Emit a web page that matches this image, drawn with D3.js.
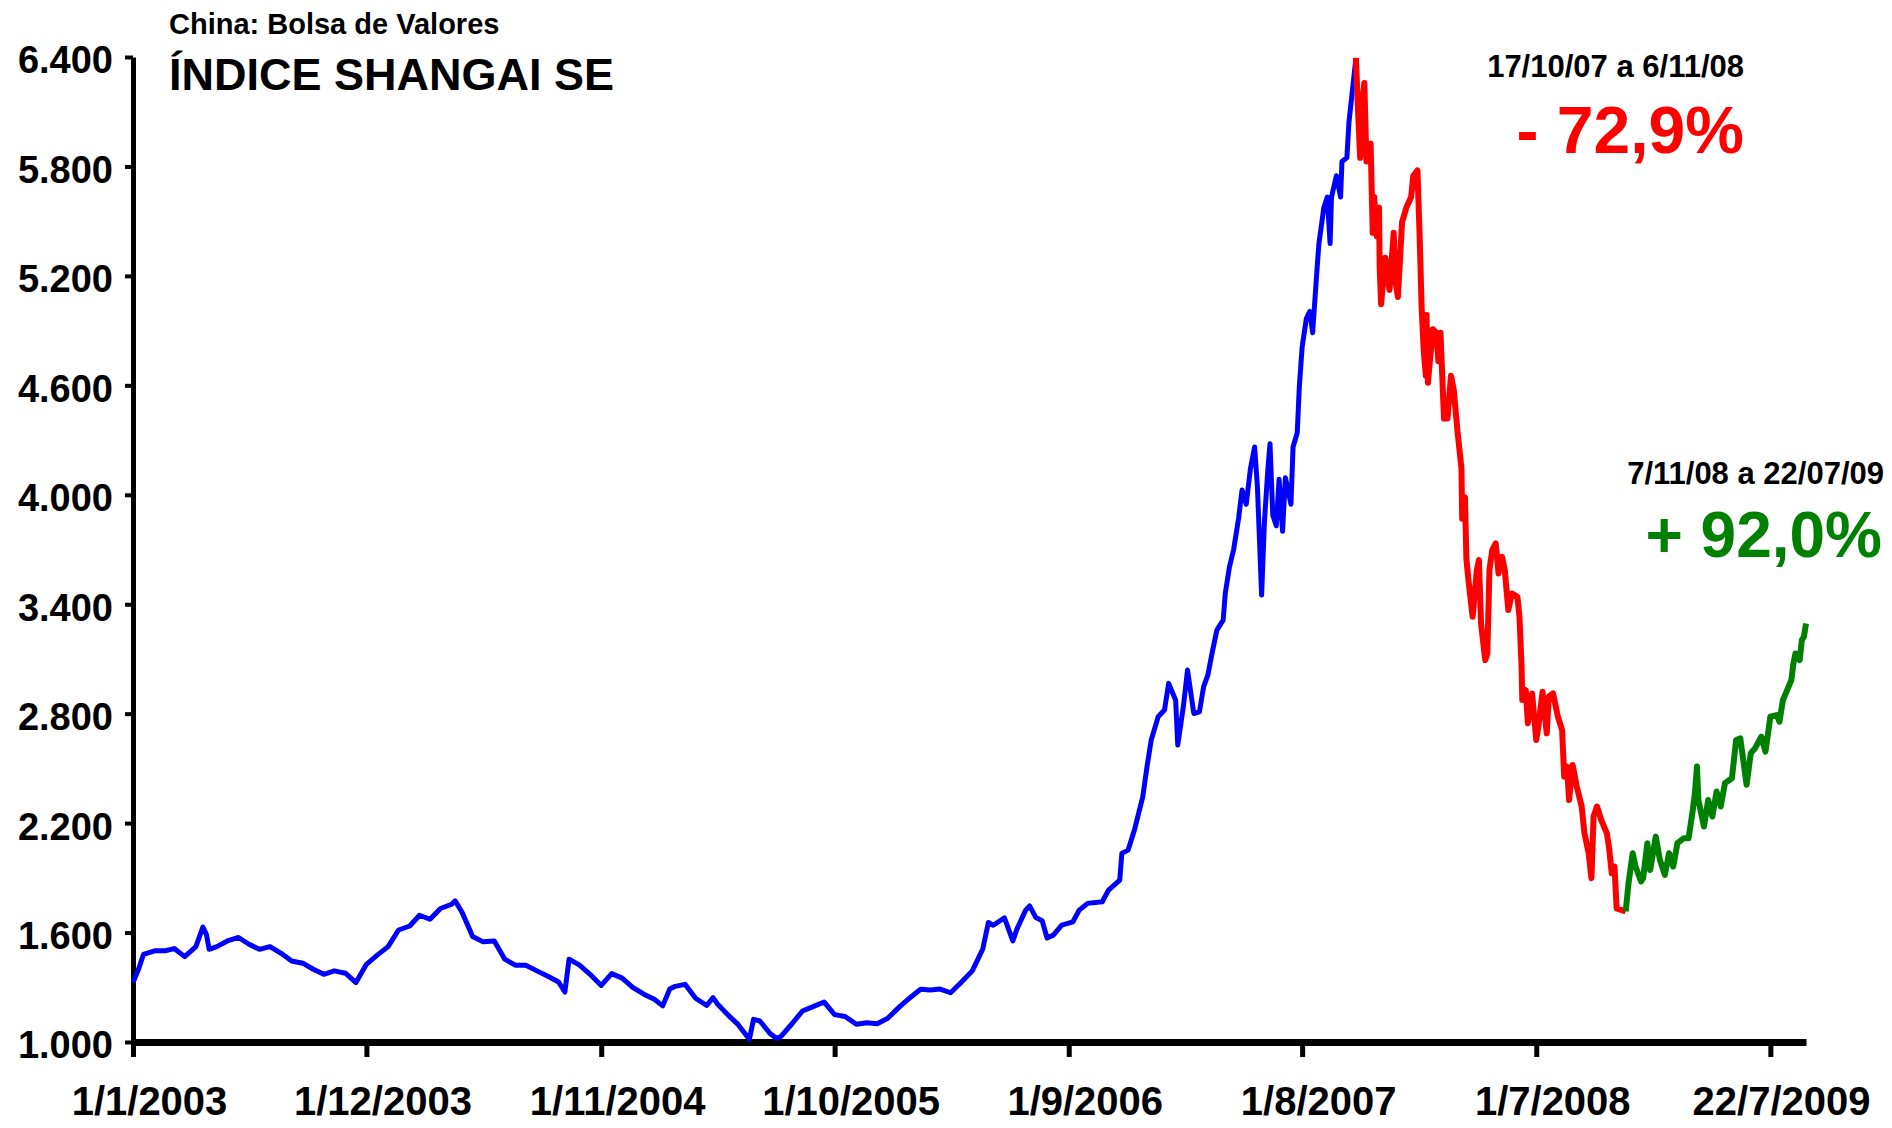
<!DOCTYPE html>
<html>
<head>
<meta charset="utf-8">
<script src="https://cdn.jsdelivr.net/npm/d3@7"></script>
<style>
body { margin: 0; background: #fff; }
text { font-family: "Liberation Sans", Arial, sans-serif; font-weight: bold; }
</style>
</head>
<body>
<script>
var w = 1892;
var h = 1128;

// rise: 1/1/2003 to the peak of 17/10/2007
var riseDates = [
  "2003-01-01","2003-01-09","2003-01-16","2003-02-01","2003-02-16","2003-03-01",
  "2003-03-16","2003-04-01","2003-04-11","2003-04-16","2003-04-20","2003-05-01",
  "2003-05-16","2003-06-01","2003-06-16","2003-07-01","2003-07-16","2003-08-01",
  "2003-08-16","2003-09-01","2003-09-16","2003-10-01","2003-10-16","2003-11-01",
  "2003-11-16","2003-12-01","2003-12-16","2004-01-01","2004-01-16","2004-02-01",
  "2004-02-15","2004-03-01","2004-03-16","2004-04-01","2004-04-06","2004-04-16",
  "2004-05-01","2004-05-16","2004-06-01","2004-06-16","2004-07-01","2004-07-16",
  "2004-08-01","2004-08-16","2004-09-01","2004-09-10","2004-09-16","2004-10-01",
  "2004-10-16","2004-11-01","2004-11-16","2004-12-01","2004-12-16","2005-01-01",
  "2005-01-16","2005-01-28","2005-02-07","2005-02-15","2005-03-01","2005-03-16",
  "2005-04-01","2005-04-10","2005-04-16","2005-05-01","2005-05-16","2005-06-01",
  "2005-06-07","2005-06-16","2005-07-01","2005-07-10","2005-07-16","2005-08-01",
  "2005-08-16","2005-09-01","2005-09-16","2005-10-01","2005-10-16","2005-11-01",
  "2005-11-16","2005-12-01","2005-12-16","2006-01-01","2006-01-16","2006-02-01",
  "2006-02-15","2006-03-01","2006-03-16","2006-04-01","2006-04-16","2006-05-01",
  "2006-05-09","2006-05-16","2006-06-01","2006-06-13","2006-06-19","2006-07-01",
  "2006-07-07","2006-07-16","2006-07-25","2006-08-01","2006-08-10","2006-08-22",
  "2006-09-07","2006-09-16","2006-09-28","2006-10-19","2006-10-28","2006-11-13",
  "2006-11-16","2006-11-25","2006-12-04","2006-12-10","2006-12-16","2006-12-22",
  "2006-12-28","2007-01-07","2007-01-16","2007-01-22","2007-02-01","2007-02-04",
  "2007-02-12","2007-02-18","2007-02-27","2007-03-07","2007-03-13","2007-03-19",
  "2007-03-25","2007-04-01","2007-04-10","2007-04-13","2007-04-19","2007-04-25",
  "2007-05-02","2007-05-07","2007-05-13","2007-05-19","2007-05-25","2007-05-29",
  "2007-06-04","2007-06-08","2007-06-13","2007-06-16","2007-06-20","2007-06-25",
  "2007-06-29","2007-07-04","2007-07-08","2007-07-16","2007-07-19","2007-07-25",
  "2007-07-28","2007-08-01","2007-08-07","2007-08-12","2007-08-16","2007-08-22",
  "2007-08-25","2007-09-01","2007-09-06","2007-09-10","2007-09-12","2007-09-19",
  "2007-09-25","2007-09-27","2007-10-04","2007-10-07","2007-10-17"
];
var riseValues = [
  1326,1400,1480,1500,1500,1512,
  1468,1523,1630,1590,1508,1523,
  1554,1573,1536,1508,1523,1486,
  1444,1432,1399,1371,1390,1377,
  1326,1426,1475,1523,1614,1636,
  1695,1673,1732,1755,1774,1710,
  1578,1549,1554,1454,1421,1421,
  1390,1362,1329,1274,1454,1421,
  1371,1310,1375,1350,1300,1262,
  1234,1198,1290,1305,1316,1240,
  1200,1243,1210,1150,1095,1015,
  1124,1115,1045,1020,1030,1100,
  1170,1195,1219,1150,1140,1097,
  1106,1100,1130,1190,1240,1289,
  1285,1290,1270,1330,1390,1510,
  1655,1640,1680,1554,1620,1720,
  1746,1682,1665,1570,1586,1641,
  1659,1723,1760,1769,1833,1888,
  2034,2052,2162,2253,2345,2509,
  2655,2783,2820,2966,2874,2628,
  2838,3039,2801,2810,2947,3011,
  3130,3258,3313,3459,3605,3700,
  3869,4026,3948,4143,4262,4045,
  3450,3850,4143,4280,3888,3830,
  4085,3800,4094,3948,4262,4340,
  4594,4810,4966,5005,4888,5221,
  5377,5573,5632,5377,5632,5749,
  5632,5827,5847,6043,6395
];

// fall: 17/10/2007 to 6/11/2008
var fallDates = [
  "2007-10-17","2007-10-20","2007-10-23","2007-10-26","2007-10-29","2007-11-01",
  "2007-11-04","2007-11-07","2007-11-10","2007-11-12","2007-11-16","2007-11-19",
  "2007-11-20","2007-11-22","2007-11-28","2007-12-04","2007-12-10","2007-12-13",
  "2007-12-16","2007-12-22","2007-12-28","2008-01-04","2008-01-07","2008-01-13",
  "2008-01-16","2008-01-19","2008-01-22","2008-01-25","2008-01-26","2008-01-28",
  "2008-02-04","2008-02-09","2008-02-12","2008-02-15","2008-02-20","2008-02-25",
  "2008-03-01","2008-03-05","2008-03-10","2008-03-16","2008-03-17","2008-03-21",
  "2008-03-23","2008-03-26","2008-04-01","2008-04-07","2008-04-10","2008-04-13",
  "2008-04-19","2008-04-22","2008-04-25","2008-04-29","2008-05-04","2008-05-08",
  "2008-05-13","2008-05-17","2008-05-22","2008-05-27","2008-06-04","2008-06-07",
  "2008-06-10","2008-06-11","2008-06-16","2008-06-19","2008-06-25","2008-07-01",
  "2008-07-04","2008-07-10","2008-07-16","2008-07-19","2008-07-25","2008-08-01",
  "2008-08-07","2008-08-10","2008-08-14","2008-08-17","2008-08-22","2008-08-28",
  "2008-09-04","2008-09-08","2008-09-14","2008-09-18","2008-09-21","2008-09-26",
  "2008-10-02","2008-10-10","2008-10-13","2008-10-17","2008-10-21","2008-10-24",
  "2008-11-06"
];
var fallValues = [
  6395,6102,5847,6141,6258,5827,
  5906,5925,5436,5632,5416,5573,
  5240,5045,5299,5123,5436,5162,
  5084,5495,5573,5632,5749,5778,
  5436,5025,4790,4653,4986,4614,
  4908,4888,4732,4888,4418,4418,
  4653,4575,4360,4143,3869,3987,
  3650,3532,3331,3587,3642,3294,
  3094,3130,3587,3697,3734,3569,
  3660,3587,3368,3459,3441,3331,
  3057,2875,2929,2747,2911,2656,
  2729,2920,2692,2893,2911,2783,
  2710,2455,2510,2327,2519,2400,
  2291,2144,2035,1898,2236,2291,
  2218,2144,2071,1925,1962,1733,
  1716
];

// recovery: 7/11/2008 to 22/07/2009
var recoveryDates = [
  "2008-11-06","2008-11-10","2008-11-16","2008-11-20","2008-11-28","2008-12-01",
  "2008-12-07","2008-12-11","2008-12-19","2008-12-25","2009-01-01","2009-01-07",
  "2009-01-13","2009-01-19","2009-01-28","2009-02-04","2009-02-10","2009-02-13",
  "2009-02-16","2009-02-18","2009-02-26","2009-03-04","2009-03-10","2009-03-16",
  "2009-03-22","2009-03-28","2009-04-07","2009-04-13","2009-04-19","2009-04-28",
  "2009-05-04","2009-05-10","2009-05-19","2009-05-25","2009-06-01","2009-06-10",
  "2009-06-14","2009-06-19","2009-06-25","2009-07-01","2009-07-04","2009-07-07",
  "2009-07-13","2009-07-16","2009-07-19","2009-07-22"
];
var recoveryValues = [
  1716,1870,2035,1962,1880,1898,
  2090,1943,2126,1998,1916,2035,
  1962,2090,2117,2117,2272,2364,
  2510,2327,2181,2327,2236,2373,
  2291,2419,2446,2656,2665,2410,
  2583,2610,2674,2592,2783,2792,
  2756,2875,2929,2984,3076,3130,
  3094,3203,3221,3294
];

var yTicks = [1000, 1600, 2200, 2800, 3400, 4000, 4600, 5200, 5800, 6400];
var xTickDates = ["2003-01-01","2003-12-01","2004-11-01","2005-10-01","2006-09-01","2007-08-01","2008-07-01","2009-06-01"];
var xTickLabels = ["1/1/2003","1/12/2003","1/11/2004","1/10/2005","1/9/2006","1/8/2007","1/7/2008","22/7/2009"];

var parse = d3.timeParse("%Y-%m-%d");
var ptFormat = d3.formatLocale({decimal: ",", thousands: ".", grouping: [3], currency: ["", ""]}).format(",d");

var x = d3.scaleTime().domain([parse("2003-01-01"), parse("2009-07-22")]).range([133, 1806]);
var y = d3.scaleLinear().domain([1000, 6400]).range([1042, 57]);

function series(dates, vals){
  return dates.map(function(d, i){ return {date: parse(d), v: vals[i]}; });
}

var svg = d3.select("body").append("svg").attr("width", w).attr("height", h);
svg.append("rect").attr("width", w).attr("height", h).attr("fill", "#fff");

//axes
var yAxis = svg.append("g").attr("transform", "translate(133,0)")
  .call(d3.axisLeft(y).tickValues(yTicks).tickSize(8).tickSizeOuter(0).tickPadding(12).tickFormat(ptFormat));
yAxis.select(".domain").attr("stroke-width", 5);
yAxis.selectAll(".tick line").attr("stroke-width", 4);
yAxis.selectAll(".tick text").attr("fill", "#000").attr("dy", "0.42em")
  .style("font-size", "38px");

var xAxis = svg.append("g").attr("transform", "translate(0,1042)")
  .call(d3.axisBottom(x).tickValues(xTickDates.map(parse)).tickSize(15).tickSizeOuter(0)
    .tickFormat(function(d, i){ return xTickLabels[i]; }));
xAxis.select(".domain").attr("stroke-width", 7);
xAxis.selectAll(".tick line").attr("stroke-width", 5);
xAxis.selectAll(".tick text").attr("fill", "#000").attr("y", 73).attr("dy", 0)
  .style("font-size", "40px")
  .attr("x", function(d){
    var half = this.getComputedTextLength() / 2;
    return Math.min(16, w - 22 - x(d) - half);
  });

//the index line, in three colours
var line = d3.line().x(function(d){ return x(d.date); }).y(function(d){ return y(d.v); });

svg.append("path").datum(series(riseDates, riseValues))
  .attr("fill", "none").attr("stroke", "#0000ff").attr("stroke-width", 5)
  .attr("stroke-linejoin", "round").attr("d", line);
svg.append("path").datum(series(fallDates, fallValues))
  .attr("fill", "none").attr("stroke", "#ff0000").attr("stroke-width", 6)
  .attr("stroke-linejoin", "round").attr("d", line);
svg.append("path").datum(series(recoveryDates, recoveryValues))
  .attr("fill", "none").attr("stroke", "#008000").attr("stroke-width", 6)
  .attr("stroke-linejoin", "round").attr("d", line);

//titles and notes
svg.append("text").attr("x", 169).attr("y", 34).style("font-size", "29px").text("China: Bolsa de Valores");
svg.append("text").attr("x", 169).attr("y", 90).style("font-size", "45px").text("ÍNDICE SHANGAI SE");

svg.append("text").attr("x", 1744).attr("y", 77).attr("text-anchor", "end")
  .style("font-size", "31px").text("17/10/07 a 6/11/08");
svg.append("text").attr("x", 1744).attr("y", 153).attr("text-anchor", "end")
  .attr("fill", "#ff0000").style("font-size", "66px").text("- 72,9%");
svg.append("text").attr("x", 1884).attr("y", 484).attr("text-anchor", "end")
  .style("font-size", "31px").text("7/11/08 a 22/07/09");
svg.append("text").attr("x", 1882).attr("y", 557).attr("text-anchor", "end")
  .attr("fill", "#008000").style("font-size", "64px").text("+ 92,0%");
</script>
</body>
</html>
